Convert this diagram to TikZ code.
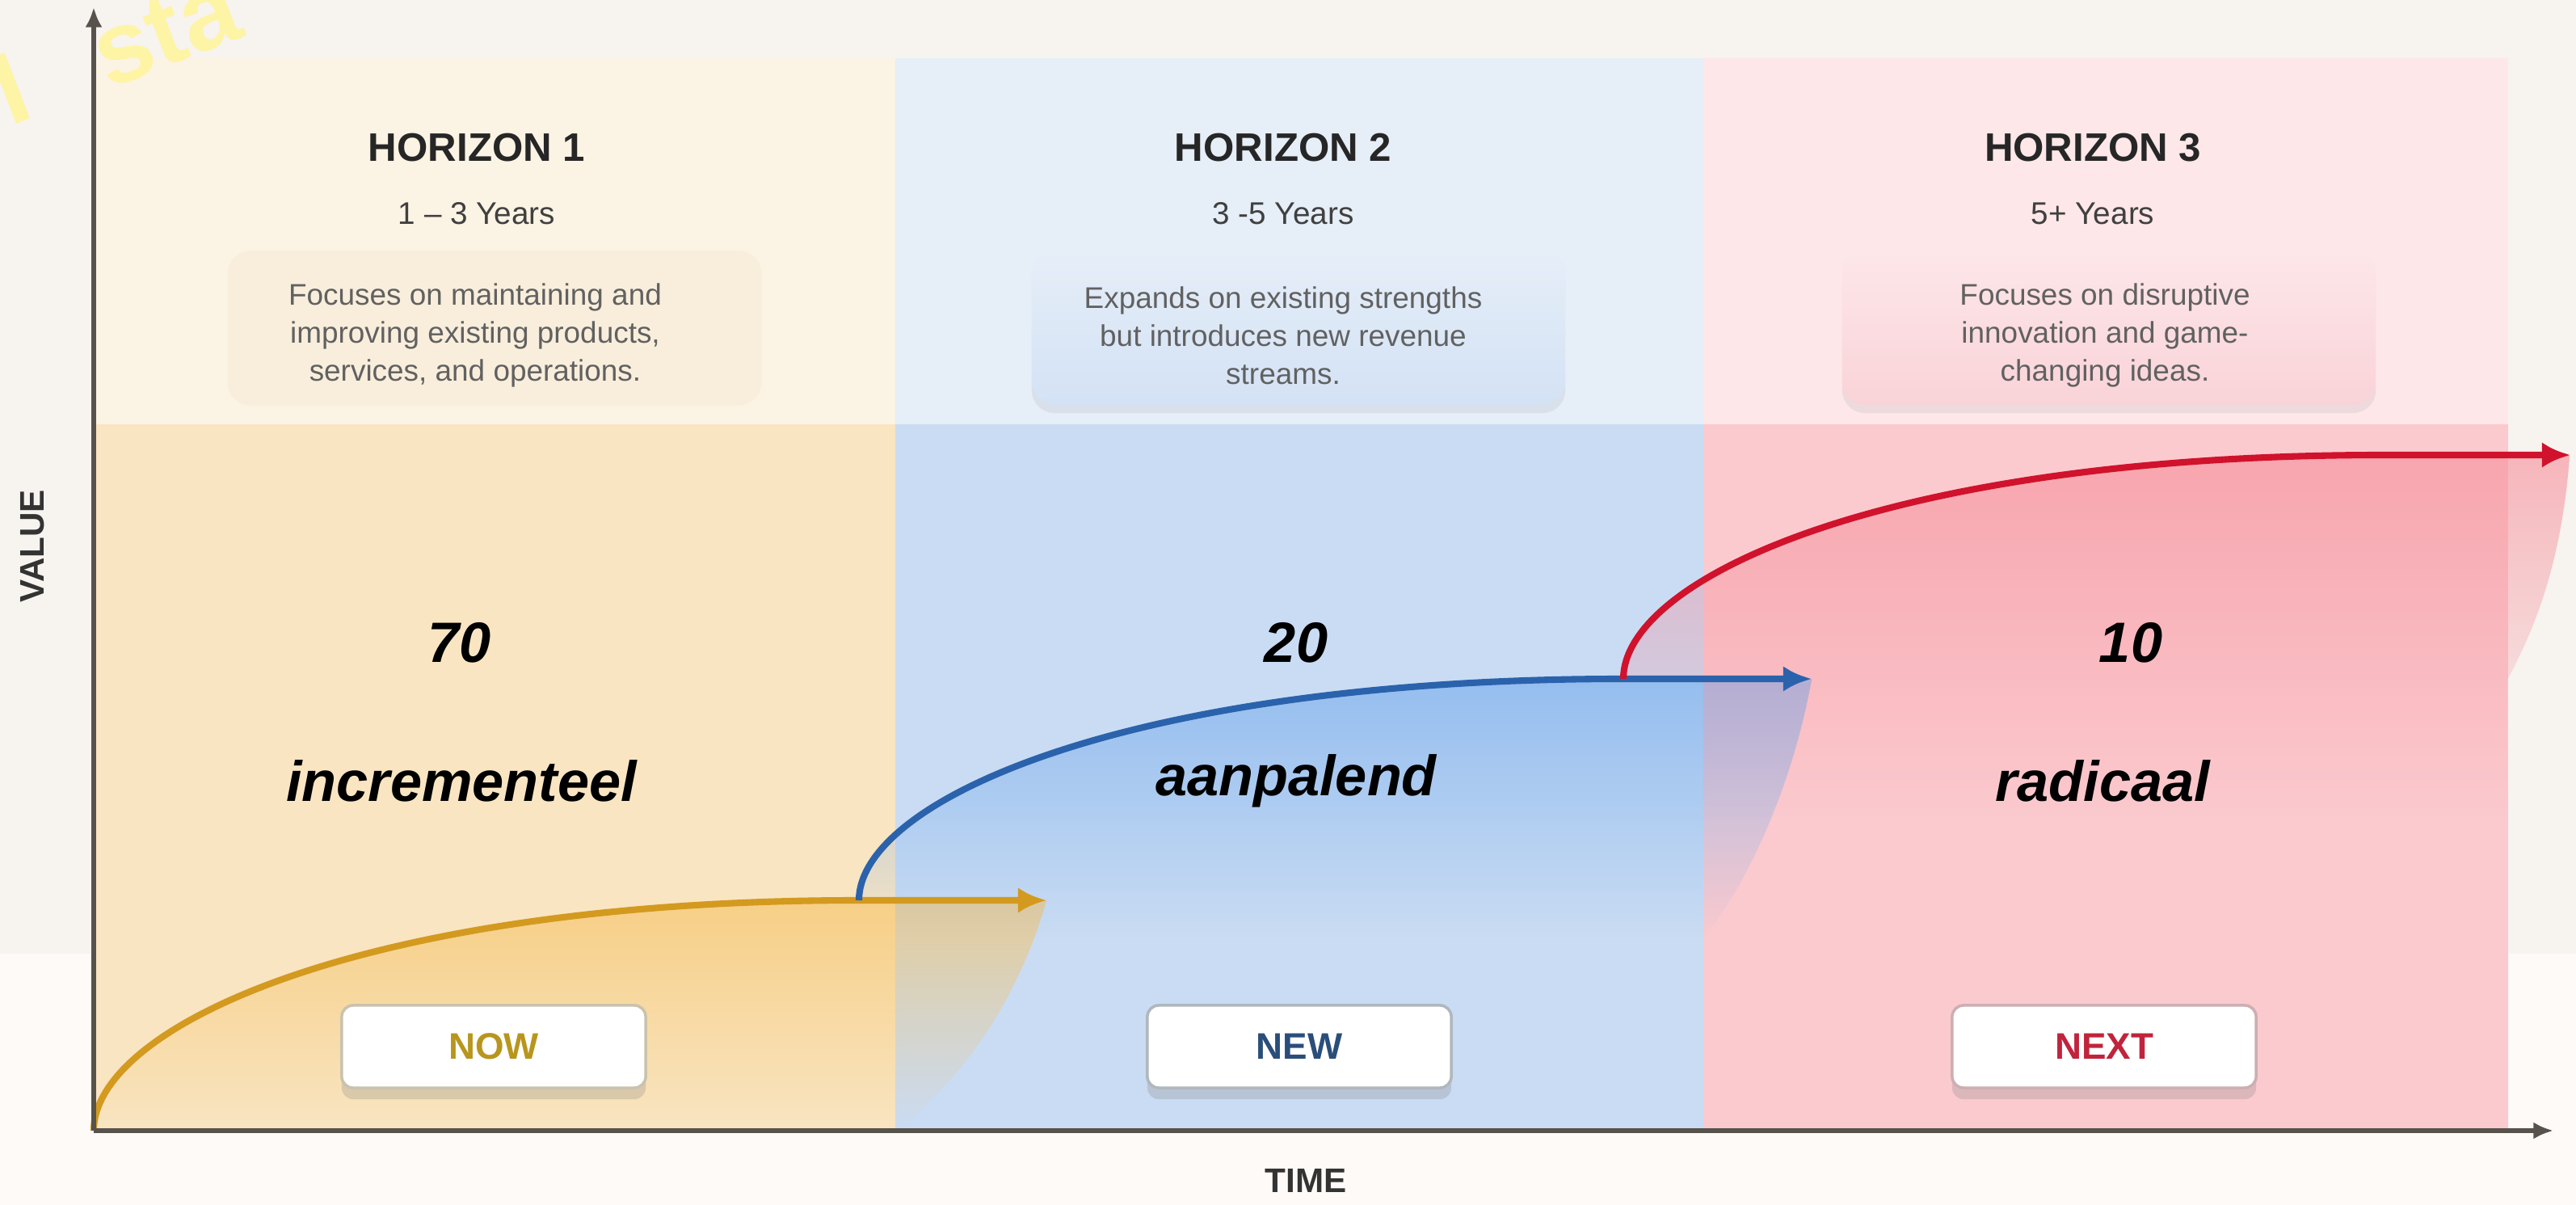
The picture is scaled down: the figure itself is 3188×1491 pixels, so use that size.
\documentclass[tikz,border=0pt]{standalone}
\usepackage{fontspec}
\setmainfont{Liberation Sans}
\usepackage{xcolor}
\usetikzlibrary{arrows.meta,shadows,fadings}

\definecolor{bgtop}{HTML}{F7F3EF}
\definecolor{bgbot}{HTML}{FDFAF7}
\definecolor{axisgray}{HTML}{57524C}
\definecolor{nowlight}{HTML}{FBF3E3}
\definecolor{nowpanel}{HTML}{F9E5C2}
\definecolor{nowbox}{HTML}{F9EEDC}
\definecolor{newlight}{HTML}{E6EEF8}
\definecolor{newpanel}{HTML}{CADCF3}
\definecolor{newbox}{HTML}{D3E2F5}
\definecolor{nextlight}{HTML}{FDE7E9}
\definecolor{nextpanel}{HTML}{FBCACE}
\definecolor{nextbox}{HTML}{F9D3D8}
\definecolor{goldline}{HTML}{D39A1F}
\definecolor{goldfill}{HTML}{F6C15F}
\definecolor{blueline}{HTML}{2B62AC}
\definecolor{bluefill}{HTML}{7EB1EE}
\definecolor{redline}{HTML}{D0122C}
\definecolor{redfill}{HTML}{F68D99}
\definecolor{nowtext}{HTML}{B8961E}
\definecolor{newtext}{HTML}{2A4E7A}
\definecolor{nexttext}{HTML}{C0243C}
\definecolor{wmyellow}{HTML}{FFF59A}

\begin{document}
\begin{tikzpicture}[x=0.01cm,y=0.01cm,
  head/.style={font=\bfseries\fontsize{14}{16}\selectfont,text=black!85},
  years/.style={font=\fontsize{11}{13}\selectfont,text=black!75},
  desc/.style={font=\fontsize{10.5}{13.4}\selectfont,text=black!62,align=center},
  share/.style={font=\bfseries\itshape\fontsize{20}{24}\selectfont},
  descbox/.style={rounded corners=8pt,minimum width=6.6cm,minimum height=1.91cm},
  tag/.style={rounded corners=4pt,fill=white,line width=1pt,minimum width=3.76cm,minimum height=1.02cm,
    font=\bfseries\fontsize{13}{15}\selectfont,drop shadow={shadow xshift=0pt,shadow yshift=-4pt,opacity=.25}},
  growth/.style={line width=2.3pt,-{Latex[length=10pt,width=9pt]}},
  axis/.style={axisgray,line width=1.5pt,-{Latex[length=7pt,width=6pt]}}]
\useasboundingbox (0,0) rectangle (3188,1491);
\fill[bgtop] (0,0) rectangle (3188,1491);
\fill[bgbot] (0,0) rectangle (3188,311);

\fill[nowlight] (116,966) rectangle (1108,1419);
\fill[nowpanel] (116,92) rectangle (1108,966);
\fill[newlight] (1108,966) rectangle (2108,1419);
\fill[newpanel] (1108,92) rectangle (2108,966);
\fill[nextlight] (2108,966) rectangle (3104,1419);
\fill[nextpanel] (2108,92) rectangle (3104,966);

\node[descbox,fill=nowbox] (b1) at (612,1085) {};
\node[descbox,top color=newlight,bottom color=newbox,drop shadow={shadow xshift=0pt,shadow yshift=-3pt,opacity=.12}] (b2) at (1607,1086) {};
\node[descbox,top color=nextlight,bottom color=nextbox,drop shadow={shadow xshift=0pt,shadow yshift=-3pt,opacity=.12}] (b3) at (2610,1086) {};

\coordinate (o) at (116,92);
\coordinate (gtop) at (1063,377);
\coordinate (gtip) at (1295,377);
\coordinate (btop) at (2009,651);
\coordinate (btip) at (2242,651);
\coordinate (rtop) at (2950,928);
\coordinate (rtip) at (3181,928);

\fill[goldfill,path fading=south,opacity=.6] (o) .. controls (116,220) and (447,377) .. (gtop) -- (gtip) .. controls (1250,220) and (1160,130) .. (1108,92) -- cycle;
\fill[bluefill,path fading=south,opacity=.7] (gtop) .. controls (1063,500) and (1394,651) .. (btop) -- (btip) .. controls (2215,500) and (2150,380) .. (2108,330) -- (1108,330) -- (1108,377) -- cycle;
\fill[redfill,path fading=south,opacity=.6] (btop) .. controls (2009,776) and (2338,928) .. (rtop) -- (rtip) .. controls (3170,780) and (3130,700) .. (3104,650) -- (3104,480) -- (2108,480) -- (2108,651) -- cycle;

\draw[growth,goldline] (o) .. controls (116,220) and (447,377) .. (gtop) -- (gtip);
\draw[growth,blueline] (gtop) .. controls (1063,500) and (1394,651) .. (btop) -- (btip);
\draw[growth,redline] (btop) .. controls (2009,776) and (2338,928) .. (rtop) -- (rtip);

\coordinate (ytop) at (116,1482);
\coordinate (xend) at (3160,92);
\draw[axis] (o) -- (ytop);
\draw[axis] (o) -- (xend);

\node[rotate=21,anchor=base west,text=wmyellow,opacity=.85,inner sep=0pt,font=\bfseries\fontsize{36}{36}\selectfont] (wm) at (12,1334) {I\hspace{0.75em}sta};

\node[head] (h1) at (590,1308) {HORIZON 1};
\node[years] (y1) at (590,1227) {1 – 3 Years};
\node[desc] (d1) at (588,1076) {Focuses on maintaining and\\improving existing products,\\services, and operations.};
\node[head] (h2) at (1588,1308) {HORIZON 2};
\node[years] (y2) at (1588,1227) {3 -5 Years};
\node[desc] (d2) at (1588,1076) {Expands on existing strengths\\but introduces new revenue\\streams.};
\node[head] (h3) at (2590,1308) {HORIZON 3};
\node[years] (y3) at (2590,1227) {5+ Years};
\node[desc] (d3) at (2605,1076) {Focuses on disruptive\\innovation and game-\\changing ideas.};

\node[share] (p1) at (569,696) {70};
\node[share] (l1) at (571,525) {incrementeel};
\node[share] (p2) at (1604,696) {20};
\node[share] (l2) at (1604,525) {aanpalend};
\node[share] (p3) at (2637,696) {10};
\node[share] (l3) at (2602,525) {radicaal};

\node[tag,draw=nowtext!35!gray!50,text=nowtext] (now) at (611,196) {NOW};
\node[tag,draw=newtext!35!gray!50,text=newtext] (new) at (1608,196) {NEW};
\node[tag,draw=nexttext!35!gray!50,text=nexttext] (next) at (2604,196) {NEXT};

\node[rotate=90,font=\bfseries\fontsize{12}{14}\selectfont,text=black!80] (value) at (40,815) {VALUE};
\node[font=\bfseries\fontsize{12}{14}\selectfont,text=black!80] (time) at (1616,30) {TIME};

\end{tikzpicture}
\end{document}
